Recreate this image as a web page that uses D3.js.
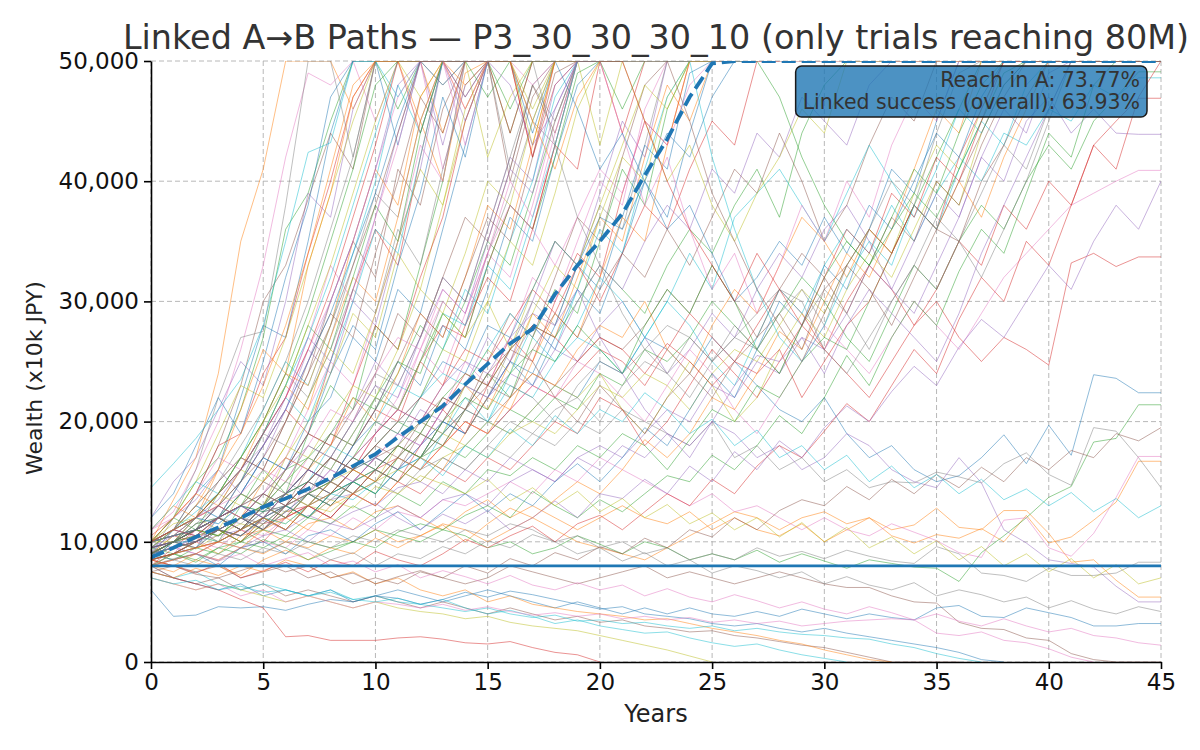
<!DOCTYPE html>
<html>
<head>
<meta charset="utf-8">
<script src="https://cdn.jsdelivr.net/npm/d3@7"></script>
<style>
  body { margin: 0; background: #fff; }
  text { font-family: "DejaVu Sans", sans-serif; }
</style>
</head>
<body>
<svg id="chart" width="1200" height="750"></svg>
<script>
// ---- data (wealth in thousands of x10k JPY, one value per year from 0) ----
const xTicks = [0, 5, 10, 15, 20, 25, 30, 35, 40, 45];
const yTicks = [0, 10000, 20000, 30000, 40000, 50000];
const targetLevel = 8000;
const titleText = "Linked A\u2192B Paths \u2014 P3_30_30_30_10 (only trials reaching 80M)";
const statLines = ["Reach in A: 73.77%", "Linked success (overall): 63.93%"];

const medianPath = [8.7,9.5,10.4,11.2,12,12.9,13.6,14.4,15.3,16.3, 17.3,18.7,20,21.3,23.1,24.8,26.5,27.7,30.6,33, 35,37.3,40.5,43.5,47,49.8,50,50,50,50, 50,50,50,50,50,50,50,50,50,50, 50,50,50,50,50,50];

// late paths that end low or below the cap
const latePaths = [
  [9,9.5,10,11,10.5,12,13,12,14,15, 14,16,17,16,18,20,19,21,23,22, 25,24,27,26,24,27,25,23,21,20, 22,19,17,18,16,15,15.5,17,18.9,16.5, 19.7,17.2,23.9,23.6,22.4,22.4],
  [9,9.5,10,9,10.5,11,10,11.5,12,11, 12.5,13,12,11,12.5,13.5,12,13,12,11, 12,13,12,11.5,12.5,11,12,11,10.5,11.5, 10,11,12,10.5,9.9,10.6,10.3,11.1,10,12.2, 9.9,10.4,11.8,13.3,16.7,16.7],
  [10,10.5,11,12,11,12.5,13,14,13,15, 16,15,17,18,17,19,21,20,22,21, 24,23,26,25,27,30,28,26,29,32, 30,27,25,29,33,31,35,38,36,40, 43,41,45,47,49.1,49.1],
  [9,9.5,10,11,12,11,12.5,13,15,14, 16,17,16,18,20,19,21,23,22,24, 26,25,23,26,29,27,25,28,31,29, 26,30,33,31,28,31,35,33,38,36, 40,38,43,45,46.9,46.9],
  [9,9.5,10,10.5,11,12,13,12,14,15, 17,16,18,20,19,22,24,23,26,25, 28,30,27,24,26,29,27,31,34,32, 36,38,35,31,29,33,37,42,40,45, 47,44,46,44,43.9,43.9],
  [8.5,8,7.5,8,7,7.5,8,7,7.5,6.5, 7,6.5,7.5,7,6.5,7,8,7.5,7,6.5, 7,7.5,8,7,7.5,7,6.5,7,7.5,7, 6.5,6.2,6.2,5.5,5,4.9,3.3,2.8,2.7,2, 1.8,0.7,0.2,0,0,0],
  [8,8.5,9,10,11,10.5,12,13,12,14, 15,17,16,18,20,19,21,23,22,25, 24,22,20,23,26,24,21,19,22,25, 28,26,24,27,30,28,26,29,32,34, 36,38,39,40,40.9,40.9],
  [10,10.5,11,12,11.5,13,12,14,13.5,15, 14,16,15,17,16,18,17,19,18,20, 19,21,20,19,18,20,17,18,16,17, 15,16,14.5,15,14.9,15.8,15.4,14.9,16.5,17.4, 15.6,14.7,19.5,19.2,17,14.5],
  [9,10,10.5,11,12,11.5,13,14,13,15, 16,15,17,19,18,20,19,21,23,22, 24,21,19,22,25,23,20,22,26,29, 27,31,34,32,36,40,38,44,48,50, 50,50,50,50,50,50],
  [9.5,10,11,10.5,12,13,12,14,15,14, 16,18,17,19,21,20,23,22,25,27, 26,24,27,30,28,25,23,27,31,29, 33,36,34,38,35,39,42,40,44,43, 46,45,48,47,48.6,48.6],
  [7.5,7,6.5,6,6.5,5.5,6,5.5,6,5, 5.5,6,5.5,5,5.5,6,5.5,5,4.5,5, 4.5,4,4.5,4,4.5,4,3.8,4.2,3.8,4.4, 4,3.6,4,3.7,3.5,4.5,4.7,3.8,3.7,4.5, 4.1,3.7,3,3,3.2,3.2],
  [8.5,8,9,8.5,9.5,9,10,9.5,10.5,10, 11,10,10.5,11.5,11,10,11,12,11,10, 9.5,9,8.5,9.5,10.5,11.5,12.5,12,11,12, 12.5,11.5,12,11,11.4,12.8,11.2,11,12.6,12.6, 10.7,8.3,8.5,6.8,5.4,5.4],
  [9,8.5,9.5,9,10,9.5,10.5,10,9.5,10, 11,10.5,10,11,10.5,9.5,10,9,9.5,10.5, 9.8,9,10,9.5,8.5,9,8.5,9.3,8.3,9, 8.4,7.8,8.5,8.2,7.9,7.8,6.7,9.1,10.5,12, 13.7,14.6,18.3,18.6,21.4,21.4],
  [9,9.5,10,11,10,11.5,12,13,12,14, 13,15,14,16,15,17,16,18,20,19, 22,21,18,20,23,26,24,22,25,28, 26,24,22,25,28,30,27,25,27,26, 24.7,33.2,34,32.9,33.7,33.7],
  [10,10.5,11,12,11,12.5,13,12,13.5,14, 13,14.5,15,14,16,15,17,16,15,17, 16,18,17,19,18,20,19,17,18,16, 17,19,18,16,15,14.5,17,14.9,11,9.9, 8.5,8.2,7.9,6.3,5,5],
  [7.5,7,6.5,7,6,6.5,5.5,6,5.5,5, 5.5,5,4.5,5,4.5,4,4.5,4,3.5,3.8, 3.3,3.5,3,2.8,2.5,2.6,2.2,2,1.7,1.4, 1.2,0.8,0.4,0,0,0,0],
  [8,8.5,9,8.5,9.5,10,9.5,11,10.5,12, 11,12.5,12,13.5,13,14,15,14,16,15, 17,16,15,14,13,14,12.5,13,12,11, 12,11,10.5,11.5,10.8,10.1,9.1,8.7,11.8,12, 9.5,8.8,10.7,13.7,17.1,17.1],
  [8,8.5,8,9,8.5,9.5,9,10,9.5,10.5, 10,11,10.5,10,11,10.5,11.5,11,10,10.5, 9.5,10,9,9.5,8.5,9,8.5,9.5,8.8,9.2, 8.6,9.3,8.8,8.4,8.2,9.6,9,7.4,7.2,6.7, 7.8,7.2,7.2,7.4,8.3,8.3],
  [7,6.5,6,6.5,6,5.5,5,5.5,5,4.5, 5,4.5,4.2,4,3.6,3.8,3.3,3,2.8,2.6, 2.2,1.8,1.4,1,0.5,0],
  [8,7,7.5,6.5,6,6.5,6,5.5,6,5.2, 5.5,5,4.8,5.2,4.5,4,4.3,3.8,3.2,3.5, 3,2.7,2.4,2.5,2,1.6,1.3,1.5,1,0.6,0.3,0],
  [6,3.8,3.9,4.6,4.5,4.6,4.3,4.8,5.2,5, 5.5,5.3,4.8,5.2,5.8,5.4,5.9,5.6,5.2,4.8, 4.4,4.6,4,3.8,3.6,3.2,3,3.2,2.8,2.5, 2.8,2.4,2.1,1.8,1.5,1.2,0.8,0.2,0],
  [7.5,7,7.8,7.2,8,7.5,8.5,8,7,7.5, 6.5,7,6,5.5,6,5,5.5,4.8,4.5,4.2, 4,3.8,3.5,3.6,3.2,2.8,2.5,2.2,1.8,1.5, 1,0.6,0.2,0],
  [8.5,9,8.5,9.5,10,11,10.5,12,11.5,13, 12,14,13,15,14,16,15.5,17,16,18, 17,19,18,16,18.5,21,20,23,22,25, 27,26,30,34,38,42,46,50,50,50,50,50,50,50,50,50],
  [8,7,6.5,6,5.2,4.5,2.1,2.2,1.8,1.8, 1.8,2,2.1,1.9,1.6,1.5,1.7,1.2,0.8,0.6, 0],
  [9,9.5,9,10,9.5,10.5,11,10,11.5,11, 12,13,12,13.5,14,13,15,16,15,17, 18,17,19,21,20,23,22,25,24,27, 26,29,33,31,35,39,37,42,46,44,49,50,50,50,50,50],
  [10,10.5,11,12,13,12,14,15,14,16, 17,18,17,19,21,20,22,24,23,25, 27,26,28,31,29,33,30,27,31,34, 32,29,33,37,35,40,38,43,47,50,50,50,50,50,50,50],
  [7,6.5,6,6.5,5.5,6,5,5.5,5,4.5, 5,4.8,4.5,4.8,4.3,4.6,4.2,3.9,4.1,3.8, 4,3.6,3.8,3.5,3.7,3.3,3.5,3.2,3.4,3, 3.2,3.4,3.5,3.6,3.5,2.4,2.2,2.5,1.8,1.6, 1.1,0.4,0],
  [9,9.5,10,11,10.5,12,11,13,12,14, 15,14,16,17,16,18,20,19,21,22, 20,23,25,24,22,25,27,26,24,28, 31,29,26,30,33,37,35,39,43,41,46,50,50,50,50,50],
  [9.5,10,10.5,10,11,12,11.5,13,12.5,14, 15,16,15,17,18,17,19,20,19,21, 23,22,24,23,21,24,26,25,28,31, 29,33,36,34,39,43,41,46,50,50,50,50,50,50,50,50],
  [7,6.5,6.8,6,6.3,5.8,6,5.5,5.8,5.2, 5,5.3,4.8,4.5,4.2,4.5,4,3.7,3.9,3.4, 3.5,3.2,3.3,3,2.8,3,2.6,2.8,2.5,2.3, 2.2,2,1.9,1.5,1.2,0.7,0.3,0]
];

// paths that hover near the target for a long time
const slowPaths = [
  [9,8.5,9,8,9.5,10,9,10.5,11,10, 11.5,12.5,11,12.5,14,12.5,14,13,15,16.5, 15,17,19.5,18,21,24,22,26,30,28, 33,31,36,41,39,45,50,50,50,50,50,50,50,50,50,50],
  [8,7.5,8.5,8,7.2,8.5,9.3,8.5,9.5,9, 10.3,9.5,10.5,11.4,10,11.5,12.8,12,13.5,15, 14,16,18.5,17,19,22,21,24,27.5,26, 30,34,32,36,41,46,44,50,50,50,50,50,50,50,50,50],
  [9.5,9,8.3,9.5,9,10.2,9.5,8.5,9.2,10, 9.5,10.8,11.5,11,12.2,13,12,14.2,13,12, 13.5,12.5,14,15.5,15,17.2,16,18,20.5,19, 22,25.5,23,27,30,28,32.5,36,34,39,44,42,48,50,50,50],
  [8.5,8,7.4,8.2,7,7.6,8.3,7.5,8.5,8, 9.2,8.5,8,9,10.2,9.5,10.5,11.3,10,11.5, 12.2,11,12.5,14,13,15.2,14,16.3,18,17, 19.2,21.5,20,23,26,24,28.5,32,30,35, 33,38,43,41,47,50],
  [10,9.5,10.3,11,10.5,11.8,11,12.2,11.5,12.5, 13.2,12,11,12.3,11.5,12.6,11,12,13.4,12, 14,13.6,15.2,14,16.3,15,17.5,16,18.4,17, 19.5,21.3,20,22.5,24.6,23,26.2,28.5,27,30, 33,31,35,38,36,40],
  [7.5,8,7.3,7,7.6,8.2,7.5,8,7,7.4, 6.5,7.1,7.6,7,8,7.4,8.6,8,9.1,8.5, 9.6,9,10.3,9.5,11,10.4,12,11,12.6,13.5, 13,14.6,13.5,15.2,14,15.6,14.5,16.2,15,17, 16,17.6,17,19,18.4,19.5],
  [9,9.6,9,8.4,9,8,8.6,9.1,8,8.4, 7.5,8.1,7,7.6,7.1,6.5,7.2,6.4,6,6.6, 6,6.4,5.5,6.1,5.4,5,5.6,5.1,4.5,5, 4.4,4,4.6,4.1,3.5,4,3.4,3,3.6,3, 2.5,2.8,2.2,2,1.6,1.4],
  [8,8.6,9,8.4,9.5,9.1,10,9.4,8.5,9.1, 8,9,8.6,9.6,9,10.1,9.5,10.6,10,9, 9.5,8.4,9.1,8,8.5,7.4,8,7.6,7,7.5, 6.5,7.1,6.4,6,6.6,5.5,6,5.6,5,5.4, 4.5,5.1,4.4,4,4.6,4.2],
  [9,10,9.4,10.6,11.5,11,12.6,12,13.5,12.8, 14.6,14,15.5,14.8,14,15.2,13.4,14.5,13,14.2, 12.5,13.6,12,13.1,11.5,12.4,11,12,10.4,11.6, 10,11.2,9.5,10.4,9,10.1,8.5,9.6,8,9, 7.5,8.6,7,8.1,6.5,7],
  [8.5,9,10,11,10.5,12,13,12,14,15, 14,16,17,15.5,18,17,19.4,18,20.5,19, 21,20,22.4,21,19,20.2,18,19.3,17,18, 16,17.2,15,16.3,14.5,15.6,14,15.2,13.5,14.4, 13,14.1,12.5,13.6,12,13]
];

// capped within 5 to 10 years
const fastPaths = [
  [9,11,14,16,22,28,27,35,44,50,50,50,50,48,50],
  [10,13.5,17,24,35,41,50,50,50,46,50,50,50,44,50],
  [10,12,15,17,21,27,36,39,45,50,50,46,50,50,50,50,44,50],
  [10.5,12,14,18,19,24,27,34,40,47,50,50,44,50,50,50,50,42,48,50],
  [12,15,17,21,25,23,30,39,37,46,50,50,50,43,50,50,50],
  [9.5,11,14,18,23,30,33,38.5,44,41,50,50,50,50,47,50],
  [11,12.5,16,20,26,33,42,49,48,50,45,50,50,41,48,50],
  [9,12,16,22,27,27.5,38,50,50,42,50,50],
  [10,12,15,19,23,22,27,33,39,45,50,50,47,50,50],
  [14.5,16.5,18.6,21,23.5,28,35,42.4,43.2,50,50,47,50,50,50],
  [12,14,18,22,19,25,32,38,47,50,50,43,50,50],
  [11,13,12,16,21,26,24,33,39,47,50,50,45,40,49,50,50]
];

// capped within 10 to 17 years
const midPaths = [
  [8.5,10,11,10,13,16,14,19,23,21,28,26,33,40,50,50,46,50,50],
  [9,10.5,10,12,15,18,21,19,25,31,36,33,42,50,50,50,44,50],
  [10,12,13.5,16,14,17,21,26,24,30,28,35,41,50,47,50,50],
  [9.5,11,12,14,17,16,20,24,30,35,32,41,38,46,50,50,40,47,50],
  [8,9,11,13,12,14,17,21,25,23,29,35,43,40,50,50,50],
  [10,11,13,15,17,20,24,22,27,33,39,37,45,50,50,50,50,45,50],
  [9,10.5,12,11,14,13,17,20,24,29,27,34,31,38,45,50,50,43,50],
  [11,13,15,14,17,21,25,23,28,34,40,48,44,50,50,50,50],
  [8.5,10,9.5,12,14,17,16,20,22,27,25,31,29,36,43,50,50,44,50],
  [9,10,12,13,15,19,23,21,27,32,30,37,45,50,48,50,50],
  [10,12,11,14,16,19,23,28,26,32,38,35,44,50,50,47,50],
  [8,9.5,11,12,11,13,16,19,18,23,28,26,32,37,45,50,50,42,50],
  [9,11,13,12,15,18,22,27,25,31,37,44,50,50,45,50],
  [10,11,12,15,17,16,20,25,29,27,34,40,47,44,50,50],
  [11,12,14,17,16,19,22,27,33,30,37,43,50,50,43,50],
  [9,10,11.5,13,16,19,18,22,26,31,29,36,33,41,48,50,41,48,50],
  [10,11.5,12,14,16,15,18,22,26,24,29,35,41,38,46,50,50,46,50],
  [9.5,11,13,12,15,19,22,20,25,30,36,34,42,50,50,50],
  [9,10,11,12,14,17,16,19,24,28,26,33,39,47,42,50,50],
  [10,12,14,13,16,20,24,23,28,35,41,38,47,50,46,50,50]
];

// capped within 15 to 22 years
const steadyPaths = [
  [9,10,11.5,12,14,13,16,17,19,22,21,24,28,26,30,35,33,39,45,50,50,50],
  [8,9,10,11,10,12,14,16,15,18,21,20,25,28,27,33,38,36,43,50,50,44,50],
  [10,11,12,11.5,13,15,17,16,19,21,25,23,27,32,30,36,42,40,48,50,50],
  [9,10,11,13,12,14,16,19,18,21,24,29,27,32,37,35,41,48,44,50,50],
  [8.5,9,10,9.5,11,13,12,15,17,16,19,22,26,24,29,34,32,38,45,50,50],
  [9,10,11.5,12,11,13,15,14,17,20,23,21,25,30,28,34,39,45,43,50,50],
  [10,10.5,12,14,13,15,18,17,20,23,22,26,31,29,34,40,38,45,50,50,43,50],
  [8,9,9.5,11,12,11,13,15,18,17,20,23,22,26,31,29,35,40,47,50,50],
  [9.5,10,11,12,13,12,14,16,15,18,21,25,23,28,26,31,37,35,42,48,50,50],
  [10,11,12,13,12,15,17,16,18,22,20,24,29,27,32,38,36,43,50,50],
  [9,10,10.5,12,13,15,14,16,19,18,22,25,24,29,27,33,38,36,42,49,50,46,50],
  [8.5,9,10,11,12,11,13,15,17,16,19,21,25,23,28,32,30,36,43,41,50,50],
  [10,10.5,12,13,12,14,16,18,17,20,23,22,27,31,29,35,41,39,46,50,50],
  [9.5,10,11,10.5,12,14,13,16,19,18,21,25,29,27,32,37,35,42,49,50],
  [9,10,11,12,13,15,14,17,16,19,22,21,26,30,28,34,40,37,44,50,50],
  [10,11,10.5,12,14,13,15,18,17,20,24,23,27,32,30,36,42,48,45,50,50],
  [8,9,10,11,10,12,14,13,15,17,20,19,22,26,25,30,35,33,39,46,50,50],
  [9,10,11,12,11,13,15,17,16,19,22,21,25,29,28,33,31,37,43,50,50]
];

// capped within 21 to 26 years
const slowRisePaths = [
  [10,10.5,11,12,13,12.5,14,15,14,16,17,16,18,20,19,22,25,23,27,31,29,34,40,37,44,50,50,50],
  [9.5,10,11,12,11,13,12,14,15,14,16,18,17,20,23,21,25,29,27,32,37,35,42,48,45,50,50],
  [9,9.5,10,11,10,11.5,13,12,14,15,14,17,19,18,21,24,22,27,31,29,35,41,38,46,50,50],
  [8.5,9,9.5,10,11,10,12,13,12,14,16,15,18,21,19,23,27,25,30,34,32,39,45,43,50,50],
  [10,11,10.5,12,13,12,14,13,15,17,16,18,21,20,23,27,25,30,35,33,39,45,42,50,50],
  [9,10,9.5,11,12,11,13,14,13,15,17,16,19,22,21,25,29,27,32,37,35,42,48,50,50],
  [9.5,10,11,10,12,13,12,14,16,15,17,19,18,21,25,23,27,32,30,35,40,38,46,50,50],
  [8.5,9,10,11,10.5,12,11,13,15,14,16,18,17,20,23,22,26,30,28,33,38,36,43,50,50],
  [10,10,11,12,11,13,14,13,15,16,15,18,20,19,23,26,24,29,33,31,37,42,40,47,50,50],
  [9,9.5,10.5,10,11,12,11.5,13,14,13.5,15,17,16,19,22,20,24,28,26,31,36,34,41,47,50],
  [9.5,10,10,11,12,11,12.5,14,13,15,16,15,17,20,19,22,25,24,28,33,31,37,43,41,49,50],
  [8,8.5,9,10,9.5,11,12,11,13,14,13,15,17,16,19,22,21,25,29,27,32,37,35,43,50,50]
];

// capped between 23 and 40 years
const latePeakPaths = [
  [10,10.5,11,12,13,12.5,14,15,17,16,18,20,19,22,24,23,26,28,27,30,33,31,29,33,36,34,38,41,37,44,48,50,50,50],
  [9.5,10,11,12,11,13,14,16,15,17,19,21,20,23,26,25,28,31,29,33,30,34,38,36,41,45,43,50,50],
  [9,9.5,10,11,12,11.5,13,14,16,15,17,19,18,21,23,22,25,28,26,30,33,31,35,38,36,41,39,44,42,47,45,43,48,50,50,50],
  [8.5,9,9.5,10,11,12,11,13,14,16,15,17,19,18,21,23,22,26,29,27,31,34,32,36,33,37,41,39,44,40,35,38,43,47,45,50,50,50],
  [10,11,12,13,14,16,15,18,21,20,24,27,26,31,29,34,38,36,33,37,41,39,45,43,48,50,50],
  [9,10,10.5,11,12,13,12.5,14,15,17,16,18,20,19,21,24,23,22,20,23,25,24,26,28,27,25,27,29,31,30,26,24,27,30,33,31,35,32,36,40,45,50,50,50,50,50],
  [9,10,11,10.5,12,13,15,17,16,19,22,21,25,29,27,30,26,31,35,33,38,43,48,46,50,50],
  [10,11,12,11.5,13,14,13,15,17,16,18,20,22,24,23,26,29,27,25,28,32,30,27,30,34,31,37,39,41,38,35,39,43,40,37,41,46,44,48,50,50,50,50,50,50,50],
  [9.5,10,11,12,11,13,14,16,15,18,20,19,22,25,24,28,27,31,35,33,37,36,40,44,42,47,50,50],
  [8.5,9,9.5,10,11,12,11,13,14,16,15,17,16,18,20,19,22,24,23,26,28,27,30,26,24,28,31,29,33,37,35,32,36,34,38,36,40,37,42,46,50,50,50,50,50,50],
  [9,10,11,10.5,12,13,12,14,15,17,16,18,17,20,22,21,24,26,25,28,26,24,28,31,29,33,30,26,24,28,32,35,33,37,41,39,44,48,50,50,50,50,50,50,50,50],
  [10,11,10.5,12,13,14,13,15,17,16,18,20,22,21,24,23,26,28,27,25,27,26,24,26.5,25,23,25,24,26,22,25,28,30,34,38,36,42,46,50,50,50,50,50,50,50,50],
  [10,10.5,11,12,13,12,14,16,15,17,19,21,20,23,25,24,27,29,28,31,27,24,21,19,17,20,23,25.5,25,27,24,28,31,29,27,25,29,34,38,42,46,50,50,50,50,50],
  [8.5,9,10,11,10.5,12,13,15,14,16,18,17,20,22,21,24,26,25,22,20,23,21,19,22,24,22,25,27,29,26,31,33,36,34,38,36,40,44,48,50,50,50,50,50,50,50]
];

// capped, then fall back and recover
const reboundPaths = [
  [9,10,12,14,16,19,22,26,30,35,41,47,50,50,46,50,50,48,50,50,50,44,38,42,36,31,34,29,33,38,35,40,37,43,47,45,50,50,50,50,50,50,50,50,50,50],
  [10,11,13,15,18,21,25,30,36,42,50,50,50,48,50,50,50,50,43,37,33,29,26,24,27,25,28,26,29,31,28,33,36,40,38,44,49,50,50,50,50,50,50,50,50,50],
  [9.5,11,12,14,17,20,23,28,33,39,45,50,50,50,50,42,47,50,50,50,50,50,45,40,43,38,35,39,42,46,44,50,50,50,50,50,50,50,50,50,50,50,50,50,50,50],
  [10,11,12.5,14,16,19,23,27,32,38,44,50,50,50,50,50,50,50,50,50,50,50,50,50,50,42,36,31,27,25,28,32,35,33,38,36,41,45,43,48,50,50,50,50,50,50],
  [9,10,11,13,15,18,21,25,29,34,39,45,50,50,50,50,50,50,50,46,41,44,40,36,38,34,30,32,35,33,37,34,38,36,40,44,42,47,50,50,50,50,50,50,50,50],
  [10,11,13,16,19,23,28,34,41,48,50,50,50,50,50,50,50,45,41,47,50,50,50,50,50,50,50,50,50,50,50,50,50,50,50,50,50,50,50,50,50,50,50,50,50,50],
  [9,10,12,14,17,20,24,29,35,41,48,50,50,50,50,50,50,50,50,50,50,50,50,50,50,50,50,50,47,42,38,35,33,36,39,37,41,45,49,50,50,50,50,50,50,50],
  [10,11,12,14,16,19,22,26,31,37,43,50,50,50,50,50,50,50,50,50,50,50,45,40,36,33,30,34,31,28,32,36,34,39,37,42,40,45,50,50,50,50,50,50,50,50],
  [9.5,10.5,12,13.5,16,18,21,25,30,35,41,48,50,50,50,50,48,43,46,50,50,50,50,50,50,50,50,50,50,50,50,50,50,50,50,50,50,50,50,50,50,50,50,50,50,50],
  [9,10,11,13,15,17,20,24,28,33,38,44,50,50,50,50,50,50,50,50,50,50,50,50,45,39,35,31,28,25,29,33,31,28,32,36,35,40,43,47,50,50,50,50,50,50]
];

const trialPaths = [].concat(latePaths, slowPaths, fastPaths, midPaths, steadyPaths, slowRisePaths, latePeakPaths, reboundPaths);

// ---- layout ----
const W = 1200, H = 750;
const margin = { top: 61, right: 39, bottom: 88, left: 151 };
const plotW = W - margin.left - margin.right;
const plotH = H - margin.top - margin.bottom;

const tab10 = d3.schemeCategory10;

const svg = d3.select("#chart");

const x = d3.scaleLinear().domain([0, 45]).range([margin.left, margin.left + plotW]);
const y = d3.scaleLinear().domain([0, 50000]).range([margin.top + plotH, margin.top]);

svg.append("defs")
  .append("clipPath")
  .attr("id", "plot-clip")
  .append("rect")
  .attr("x", margin.left)
  .attr("y", margin.top)
  .attr("width", plotW)
  .attr("height", plotH);

// grid
const grid = svg.append("g").attr("class", "grid");
grid.selectAll(".gx")
  .data(xTicks)
  .enter()
  .append("line")
  .attr("x1", (d) => x(d))
  .attr("x2", (d) => x(d))
  .attr("y1", margin.top)
  .attr("y2", margin.top + plotH);
grid.selectAll(".gy")
  .data(yTicks)
  .enter()
  .append("line")
  .attr("x1", margin.left)
  .attr("x2", margin.left + plotW)
  .attr("y1", (d) => y(d))
  .attr("y2", (d) => y(d));
grid.selectAll("line")
  .attr("stroke", "#b0b0b0")
  .attr("stroke-width", 0.9)
  .attr("stroke-dasharray", "5,3");

// paths
const line = d3.line()
  .x((d, i) => x(i))
  .y((d) => y(d * 1000));

const plot = svg.append("g").attr("clip-path", "url(#plot-clip)");

plot.selectAll(".trial")
  .data(trialPaths)
  .enter()
  .append("path")
  .attr("class", "trial")
  .attr("d", line)
  .attr("fill", "none")
  .attr("stroke", (d, i) => tab10[i % 10])
  .attr("stroke-width", 1)
  .attr("stroke-opacity", 0.5)
  .attr("stroke-linejoin", "round");

plot.append("line")
  .attr("x1", x(0))
  .attr("x2", x(45))
  .attr("y1", y(targetLevel))
  .attr("y2", y(targetLevel))
  .attr("stroke", "#1f77b4")
  .attr("stroke-width", 2.6);

plot.append("path")
  .datum(medianPath)
  .attr("d", line)
  .attr("fill", "none")
  .attr("stroke", "#1f77b4")
  .attr("stroke-width", 3.8)
  .attr("stroke-dasharray", "14,6");

// axes
const xAxis = svg.append("g")
  .attr("transform", `translate(0, ${margin.top + plotH})`)
  .call(d3.axisBottom(x).tickValues(xTicks).tickSize(7).tickSizeOuter(0).tickPadding(5));

const yAxis = svg.append("g")
  .attr("transform", `translate(${margin.left}, 0)`)
  .call(d3.axisLeft(y).tickValues(yTicks).tickFormat(d3.format(",")).tickSize(7).tickSizeOuter(0).tickPadding(5));

[xAxis, yAxis].forEach((g) => {
  g.select(".domain").attr("stroke", "#000").attr("stroke-width", 1.6);
  g.selectAll(".tick line").attr("stroke", "#000").attr("stroke-width", 1.6);
  g.selectAll(".tick text")
    .attr("fill", "#111")
    .style("font-size", "23px")
    .style("font-family", "'DejaVu Sans', sans-serif");
});

// labels
svg.append("text")
  .attr("x", margin.left + plotW / 2)
  .attr("y", 49)
  .attr("text-anchor", "middle")
  .attr("fill", "#333")
  .style("font-size", "33.4px")
  .text(titleText);

svg.append("text")
  .attr("x", margin.left + plotW / 2)
  .attr("y", 722)
  .attr("text-anchor", "middle")
  .attr("fill", "#222")
  .style("font-size", "24px")
  .text("Years");

svg.append("text")
  .attr("transform", `translate(42, 378) rotate(-90)`)
  .attr("text-anchor", "middle")
  .attr("fill", "#222")
  .style("font-size", "22px")
  .text("Wealth (x10k JPY)");

// stats box
const statBox = svg.append("g");
const boxRect = statBox.append("rect");
const statText = statBox.append("g");
statText.selectAll("text")
  .data(statLines)
  .enter()
  .append("text")
  .attr("x", 1140)
  .attr("y", (d, i) => 87 + i * 22)
  .attr("text-anchor", "end")
  .attr("fill", "#333")
  .style("font-size", "20.5px")
  .text((d) => d);

const bb = statText.node().getBBox();
boxRect
  .attr("x", bb.x - 7)
  .attr("y", bb.y - 2)
  .attr("width", bb.width + 14)
  .attr("height", bb.height + 5)
  .attr("rx", 6)
  .attr("fill", "#1f77b4")
  .attr("fill-opacity", 0.8)
  .attr("stroke", "#1a1a1a")
  .attr("stroke-width", 1.5);
</script>
</body>
</html>
